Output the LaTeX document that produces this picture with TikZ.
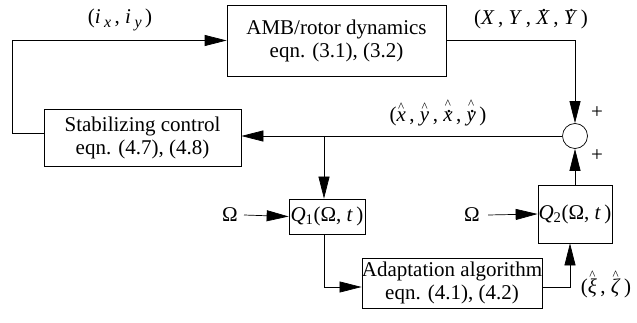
\documentclass[tikz,border=0pt]{standalone}
\usepackage{fontspec}
\setmainfont{Liberation Serif}
\usetikzlibrary{arrows.meta,calc}
% caret and dot placed above a symbol
\newcommand{\hatted}[2][10pt]{{\ooalign{#2\cr\hidewidth\raisebox{#1}{\fontsize{13}{13}\selectfont\textasciicircum}\hidewidth\cr}}}
\newcommand{\dotted}[2][13.5pt]{{\ooalign{#2\cr\hidewidth\kern2pt\raisebox{#1}{.}\hidewidth\cr}}}
\newcommand{\sub}[1]{\raisebox{-0.35ex}{\fontsize{16}{16}\selectfont\textit{#1}}}
\begin{document}
\begin{tikzpicture}[x=1pt,y=-1pt,
  every node/.style={font=\fontsize{21}{23}\selectfont, inner sep=0pt},
  blk/.style={draw, line width=0.7pt, align=center},
  sumpt/.style={draw, circle, line width=0.7pt, minimum size=25pt},
  wire/.style={line width=0.7pt},
  arr/.style={wire, -{Triangle[length=22pt,width=11pt]}},
  lbl/.style={anchor=base}]
\useasboundingbox (0,0) rectangle (637,323);

% blocks
\node[blk, minimum width=219pt, minimum height=71pt] (amb) at (336.5,40.5)
  {AMB/rotor dynamics\\eqn. (3.1), (3.2)};
\node[blk, minimum width=197pt, minimum height=57pt] (stab) at (142.5,137.5)
  {Stabilizing control\\eqn. (4.7), (4.8)};
\node[blk, minimum width=76pt, minimum height=35pt] (q1) at (327,216.5)
  {\textit{Q}\textsubscript{1}(Ω, \textit{t}\,)};
\node[blk, minimum width=74pt, minimum height=58pt] (q2) at (575,214)
  {\textit{Q}\textsubscript{2}(Ω, \textit{t}\,)};
\node[blk, minimum width=170pt, minimum height=50pt] (adapt) at (452,283)
  {Adaptation algorithm\\eqn. (4.1), (4.2)};
\node[sumpt] (sum) at (575,136) {};

% inputs
\node (om1) at (230,215) {Ω};
\node (om2) at (472,215) {Ω};

% helper points
\coordinate (br) at (324,136);
\coordinate (lc) at (12,133);

% connectors
\draw[arr] (amb.east) -| (sum.north);
\draw[arr] (sum.west) -- (sum.west -| stab.east);
\draw[arr] (stab.west |- lc) -- (lc) |- (amb.west);
\draw[arr] (br) -- (br |- q1.north);
\draw[arr] (om1.east) ++(6,0) -- (q1.west);
\draw[arr] (om2.east) ++(8,0) -- (q2.west);
\draw[arr] (q1.south -| br) |- ($(adapt.west)+(0,4)$);
\draw[arr] ($(adapt.east)+(0,4)$) -| ($(q2.south)+(-5,0)$);
\draw[arr] (q2.north) -- (sum.south);

% signal labels
\node[lbl] at (120,24) {(\textit{i}\,\sub{x}\,, \textit{i}\,\sub{y}\,)};
\node[lbl] at (531,25) {(\textit{X}\,, \textit{Y}\,, \dotted{\textit{X}}\,, \dotted{\textit{Y}}\,)};
\node[lbl] at (438,122) {(\hatted{\textit{x}}\,, \hatted{\textit{y}}\,, \hatted[13pt]{\dotted[9pt]{\textit{x}}}\,, \hatted[13pt]{\dotted[9pt]{\textit{y}}}\,)};
\node[lbl] at (597,119) {+};
\node[lbl] at (597,162) {+};
\node[lbl] at (606,293) {(\hatted[14pt]{\textit{ξ}}\,, \hatted[14pt]{\textit{ζ}}\,)};
\end{tikzpicture}
\end{document}
